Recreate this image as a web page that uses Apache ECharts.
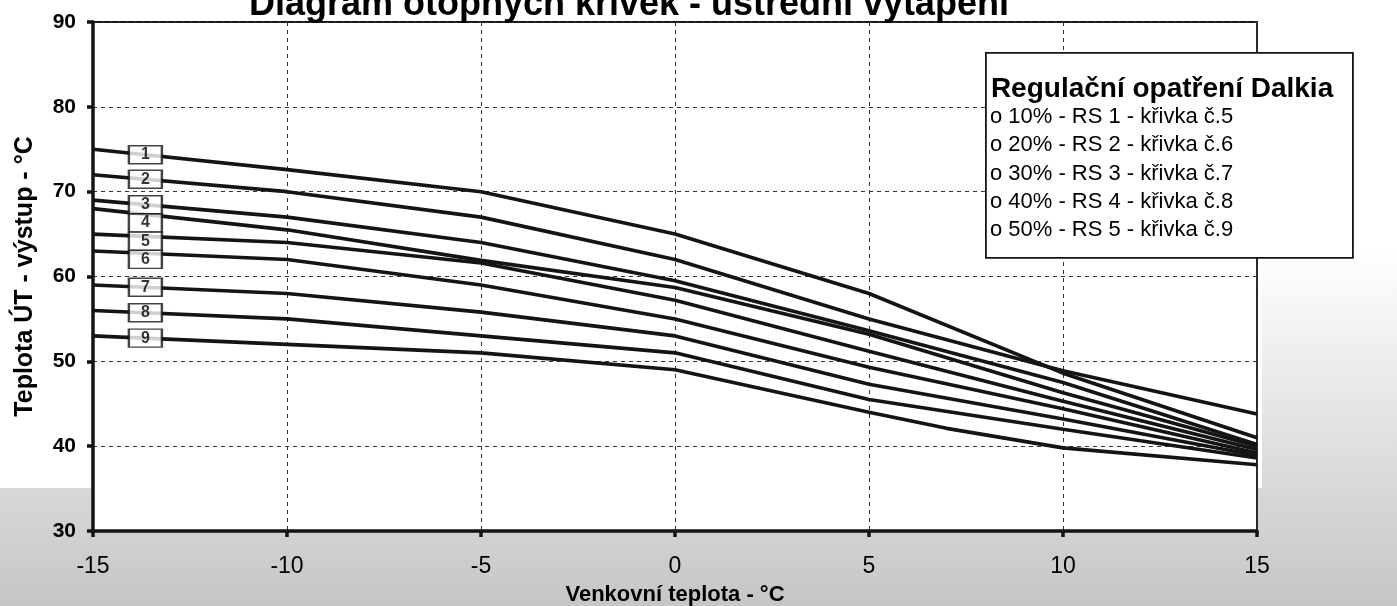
<!DOCTYPE html>
<html>
<head>
<meta charset="utf-8">
<script src="https://cdn.jsdelivr.net/npm/echarts@6/dist/echarts.min.js"></script>
<style>
html,body{margin:0;padding:0;background:#fff;}
#chart{width:1397px;height:606px;}
</style>
</head>
<body>
<div id="chart"></div>
<script>
// ---- data ----
const titleText = 'Diagram otopných křivek - ústřední vytápění';
const xAxisName = 'Venkovní teplota - °C';
const yAxisName = 'Teplota ÚT - výstup - °C';
const xTicks = [-15, -10, -5, 0, 5, 10, 15];
const yTicks = [30, 40, 50, 60, 70, 80, 90];

const outdoorT = [-15, -10, -5, 0, 5, 10, 15];
const curve1 = [75, 72.6, 70, 65, 58, 48.6, 41];
const curve2 = [72, 70, 67, 62, 55, 48.9, 43.8];
const curve3 = [69, 67, 64, 59.5, 53.6, 47.5, 40.2];
const curve4 = [68, 65.5, 61.9, 58.7, 53.2, 46.3, 40];
const curve5 = [65, 64, 61.6, 57.2, 51.2, 45.3, 39.6];
const curve6 = [63, 62, 59, 55, 49.3, 44.4, 39.2];
const curve7 = [59, 58, 55.8, 53, 47.3, 43.2, 38.9];
const curve8 = [56, 55, 53, 51, 45.5, 42, 38.6];
const outdoorT9 = [-15, -10, -5, 0, 5, 7, 10, 15];
const curve9 = [53, 52, 51, 49, 44, 42.1, 39.8, 37.8];

const curveNames = ['1', '2', '3', '4', '5', '6', '7', '8', '9'];
const legendTitle = 'Regulační opatření Dalkia';
const legendItems = [
  'o 10% - RS 1 - křivka č.5',
  'o 20% - RS 2 - křivka č.6',
  'o 30% - RS 3 - křivka č.7',
  'o 40% - RS 4 - křivka č.8',
  'o 50% - RS 5 - křivka č.9'
];

// ---- build ----
const curves = [curve1, curve2, curve3, curve4, curve5, curve6, curve7, curve8, curve9];
const xs = [outdoorT, outdoorT, outdoorT, outdoorT, outdoorT, outdoorT, outdoorT, outdoorT, outdoorT9];

function interp(xArr, yArr, x) {
  for (let i = 0; i < xArr.length - 1; i++) {
    if (x >= xArr[i] && x <= xArr[i + 1]) {
      const t = (x - xArr[i]) / (xArr[i + 1] - xArr[i]);
      return yArr[i] + t * (yArr[i + 1] - yArr[i]);
    }
  }
  return yArr[0];
}

const FONT = '"Liberation Sans", Arial, sans-serif';
const LINE = '#141414';

const labelX = -13.65;
const minGap = 2.15;
const labelPts = [];
let prev = Infinity;
curves.forEach((c, i) => {
  let v = interp(xs[i], c, labelX);
  v = Math.min(v, prev - minGap);
  prev = v;
  labelPts.push({ value: [labelX, v], name: curveNames[i] });
});

const series = curves.map((c, i) => ({
  type: 'line',
  name: curveNames[i],
  data: xs[i].map((x, j) => [x, c[j]]),
  showSymbol: false,
  symbol: 'none',
  lineStyle: { color: LINE, width: 3.6 },
  z: 3,
  silent: true
}));

series.push({
  type: 'scatter',
  data: labelPts,
  symbol: 'rect',
  symbolSize: [33, 18],
  itemStyle: { color: '#fff', borderColor: LINE, borderWidth: 1.8 },
  label: {
    show: true, position: 'inside', formatter: p => p.name,
    color: '#000', fontFamily: FONT, fontWeight: 'bold', fontSize: 16
  },
  z: 10,
  silent: true
});

const chart = echarts.init(document.getElementById('chart'), null, { renderer: 'canvas' });

const legendLeft = 985, legendTop = 52;
const legendChildren = [
  { type: 'rect', z: 100, shape: { x: 0, y: 0, width: 367, height: 205 },
    style: { fill: '#fff', stroke: LINE, lineWidth: 1.8 } },
  { type: 'text', z: 101, style: { text: legendTitle, x: 5, y: 36, textVerticalAlign: 'middle',
      font: 'bold 28px ' + FONT, fill: '#000' } }
];
legendItems.forEach((t, i) => {
  legendChildren.push({ type: 'text', z: 101, style: { text: t, x: 4, y: 64 + i * 28.3,
    textVerticalAlign: 'middle', font: '22px ' + FONT, fill: '#000' } });
});

const option = {
  animation: false,
  backgroundColor: '#ffffff',
  title: {
    text: titleText, left: 624, top: -18, textAlign: 'center',
    textStyle: { fontFamily: FONT, fontWeight: 'bold', fontSize: 36, color: '#000' }
  },
  grid: {
    left: 93, right: 140, top: 22, bottom: 75,
    containLabel: false, outerBoundsMode: 'none',
    show: true, backgroundColor: '#fff', borderColor: LINE, borderWidth: 1.8
  },
  xAxis: {
    type: 'value', min: -15, max: 15, interval: 5,
    name: xAxisName, nameLocation: 'middle', nameGap: 53,
    nameTextStyle: { fontFamily: FONT, fontWeight: 'bold', fontSize: 22, color: '#000' },
    axisLine: { onZero: false, lineStyle: { color: LINE, width: 3.5 } },
    axisTick: { show: true, length: 6, lineStyle: { color: LINE, width: 3.5 } },
    axisLabel: { fontFamily: FONT, fontSize: 23, color: '#000', margin: 24,
      formatter: v => xTicks.includes(v) ? String(v) : '' },
    splitLine: { show: true, lineStyle: { color: '#333', width: 1, type: [4, 4] } }
  },
  yAxis: {
    type: 'value', min: 30, max: 90, interval: 10,
    name: yAxisName, nameLocation: 'middle', nameGap: 55, nameRotate: 90,
    nameTextStyle: { fontFamily: FONT, fontWeight: 'bold', fontSize: 25, color: '#000' },
    axisLine: { show: true, onZero: false, lineStyle: { color: LINE, width: 3.5 } },
    axisTick: { show: true, length: 6, lineStyle: { color: LINE, width: 3.5 } },
    axisLabel: { fontFamily: FONT, fontWeight: 'bold', fontSize: 21, color: '#000', margin: 17,
      formatter: v => yTicks.includes(v) ? String(v) : '' },
    splitLine: { show: true, lineStyle: { color: '#333', width: 1, type: [4, 4] } }
  },
  graphic: [
    { type: 'rect', z: -10, silent: true, shape: { x: 0, y: 488, width: 1397, height: 118 },
      style: { fill: { type: 'linear', x: 0, y: 0, x2: 0, y2: 1,
        colorStops: [{ offset: 0, color: '#d8d8d8' }, { offset: 1, color: '#c6c6c6' }] } } },
    { type: 'rect', z: -10, silent: true, shape: { x: 1262, y: 250, width: 135, height: 240 },
      style: { fill: { type: 'linear', x: 0, y: 0, x2: 0, y2: 1,
        colorStops: [{ offset: 0, color: '#ffffff' }, { offset: 1, color: '#d8d8d8' }] } } },
    { type: 'group', left: legendLeft, top: legendTop, z: 100, children: legendChildren }
  ],
  series: series
};
chart.setOption(option);
</script>
</body>
</html>
